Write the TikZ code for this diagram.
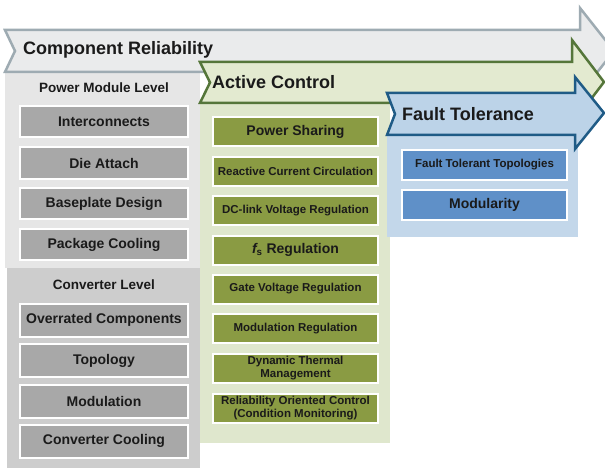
\documentclass[tikz,border=0pt]{standalone}
\usepackage{fontspec}
\setmainfont{Liberation Sans}
\definecolor{grayarrowfill}{HTML}{EAEBEC}
\definecolor{grayarrowline}{HTML}{9EABB2}
\definecolor{graycolA}{HTML}{E6E6E6}
\definecolor{graycolB}{HTML}{CDCDCD}
\definecolor{grayboxfill}{HTML}{A8A8A8}
\definecolor{greenarrowfill}{HTML}{E3EAD0}
\definecolor{greenarrowline}{HTML}{55763A}
\definecolor{greencol}{HTML}{DFE7CD}
\definecolor{greenboxfill}{HTML}{8A9B43}
\definecolor{bluearrowfill}{HTML}{BCD3E8}
\definecolor{bluearrowline}{HTML}{1F5B86}
\definecolor{bluecol}{HTML}{C3D7EA}
\definecolor{blueboxfill}{HTML}{5F90C8}
\definecolor{txt}{HTML}{1A1A1A}
\tikzset{
  bx/.style={draw=white, line width=2pt, text=txt, font=\bfseries, align=center, inner sep=0pt},
  graybox/.style={bx, fill=grayboxfill, minimum width=168pt, minimum height=31pt},
  greenbox/.style={bx, fill=greenboxfill, minimum width=165pt, minimum height=29pt},
  bluebox/.style={bx, fill=blueboxfill, minimum width=165pt, minimum height=30pt},
  big/.style={font=\fontsize{14}{16}\selectfont\bfseries},
  small/.style={font=\fontsize{11.5}{13}\selectfont\bfseries},
  title/.style={font=\fontsize{18}{20}\selectfont\bfseries, text=txt, anchor=west, inner sep=0pt},
  level/.style={font=\fontsize{13.5}{15}\selectfont\bfseries, text=txt, inner sep=0pt},
  arrowline/.style={line width=2.5pt, line join=miter}
}
\begin{document}
\begin{tikzpicture}[x=1pt,y=-1pt]
\useasboundingbox (0,0) rectangle (605,468);
\fill[white] (0,0) rectangle (605,468);
% gray column
\fill[graycolA] (5,72) rectangle (200,268);
\fill[graycolB] (7,268) rectangle (200,468);
% gray arrow
\draw[arrowline, draw=grayarrowline, fill=grayarrowfill]
  (5,30) -- (580,30) -- (580,8) -- (614,51) -- (580,94) -- (580,72) -- (5,72) -- (15,51) -- cycle;
% green column
\fill[greencol] (200,103) rectangle (390,443);
% green arrow
\draw[arrowline, draw=greenarrowline, fill=greenarrowfill]
  (200,62) -- (572,62) -- (572,40) -- (604,82) -- (572,124) -- (572,103) -- (200,103) -- (210,82.5) -- cycle;
% blue column
\fill[bluecol] (387,135) rectangle (578,237);
% blue arrow
\draw[arrowline, draw=bluearrowline, fill=bluearrowfill]
  (387,93) -- (575,93) -- (575,77) -- (604,113) -- (575,149) -- (575,135) -- (387,135) -- (395,114) -- cycle;
% titles
\node[title] (tcr) at (23,50) {Component Reliability};
\node[title] (tac) at (212,82) {Active Control};
\node[title] (tft) at (402,114) {Fault Tolerance};
% gray column
\node[level] (pml) at (104,88) {Power Module Level};
\node[graybox, big] (ic) at (104,122) {Interconnects};
\node[graybox, big] (da) at (104,163) {Die Attach};
\node[graybox, big] (bd) at (104,203.5) {Baseplate Design};
\node[graybox, big] (pc) at (104,244.5) {Package Cooling};
\node[level] (cl) at (104,285) {Converter Level};
\node[graybox, big, minimum height=33pt] (oc) at (104,320) {Overrated Components};
\node[graybox, big, minimum height=33pt] (tp) at (104,360.5) {Topology};
\node[graybox, big, minimum height=33pt] (md) at (104,401) {Modulation};
\node[graybox, big, minimum height=33pt] (cc) at (104,441) {Converter Cooling};
% green column
\node[greenbox, big] (ps) at (295.5,132) {Power Sharing};
\node[greenbox, small] (rc) at (295.5,171.5) {Reactive Current Circulation};
\node[greenbox, small] (dc) at (295.5,210.5) {DC-link Voltage Regulation};
\node[greenbox, big] (fs) at (295.5,250) {{\itshape f}\textsubscript{s} Regulation};
\node[greenbox, small] (gv) at (295.5,289) {Gate Voltage Regulation};
\node[greenbox, small] (mr) at (295.5,328.5) {Modulation Regulation};
\node[greenbox, small] (dt) at (295.5,368.5) {Dynamic Thermal\\Management};
\node[greenbox, small] (ro) at (295.5,408) {Reliability Oriented Control\\(Condition Monitoring)};
% blue column
\node[bluebox, small] (ftt) at (484.5,165) {Fault Tolerant Topologies};
\node[bluebox, big] (mo) at (484.5,205) {Modularity};
\end{tikzpicture}
\end{document}
